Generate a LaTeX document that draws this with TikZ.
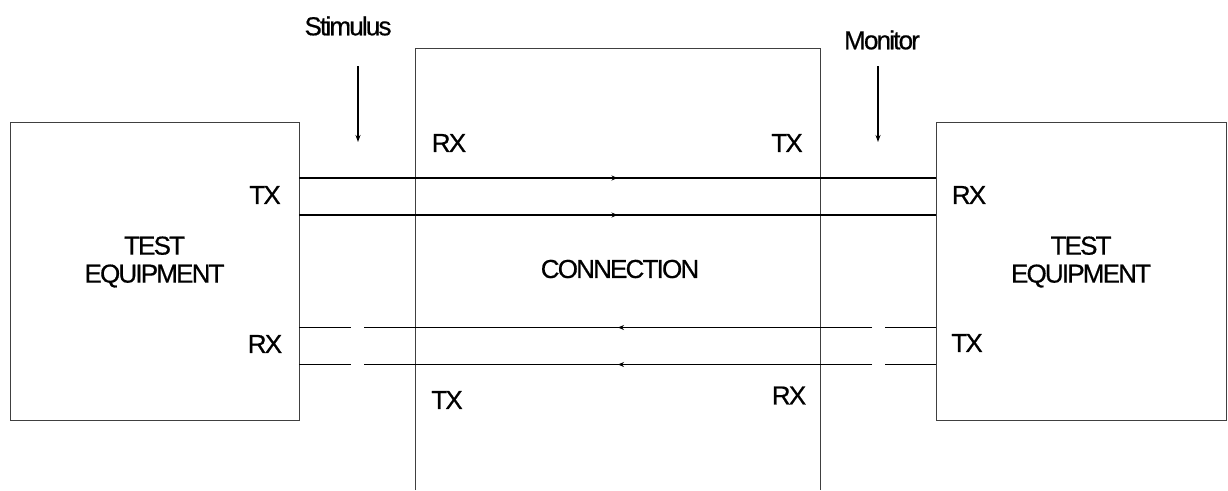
\documentclass[tikz,border=0pt]{standalone}
\usepackage{fontspec}
\setmainfont{Liberation Sans}[LetterSpace=-7,FakeBold=0.6]
\usetikzlibrary{decorations.markings,arrows.meta}
\begin{document}
\begin{tikzpicture}[x=1pt,y=-1pt,
  box/.style={draw=black!75, line width=0.9pt, inner sep=0pt},
  wire/.style={line width=1.7pt},
  lbl/.style={font=\fontsize{26}{28}\selectfont, inner sep=0pt, align=center},
  midarrow/.style={postaction={decorate},decoration={markings,mark=at position 0.5 with {\arrow{Stealth[length=6pt,width=5pt]}}}},
  probe/.style={line width=1.2pt, -{Stealth[length=7pt,width=5pt]}}
 ]
\path[use as bounding box] (0,0) rectangle (1228,490);
% boxes
\node[box, minimum width=289pt, minimum height=298pt] (lte) at (154.5,271) {};
\node[box, minimum width=290pt, minimum height=298pt] (rte) at (1081,271) {};
\draw[draw=black!75, line width=0.9pt] (415,490) coordinate (cbl) -- (415,48) coordinate (cbtl) -- (820,48) coordinate (cbtr) -- (820,490) coordinate (cbr);
% box texts
\node[lbl] (ltxt) at (154.5,262) {TEST\\EQUIPMENT};
\node[lbl] (rtxt) at (1081,262) {TEST\\EQUIPMENT};
\node[lbl] (ctxt) at (620,269) {CONNECTION};
% port labels
\node[lbl] (ltx) at (265,195) {TX};
\node[lbl] (lrx) at (265,344) {RX};
\node[lbl] (rrx) at (969,195) {RX};
\node[lbl] (rtx) at (967,343) {TX};
\node[lbl] (crx1) at (449,143) {RX};
\node[lbl] (ctx1) at (787,143) {TX};
\node[lbl] (ctx2) at (447,400) {TX};
\node[lbl] (crx2) at (789,395.5) {RX};
% wire end points
\coordinate (a1) at (lte.east |- 0,178);
\coordinate (b1) at (rte.west |- 0,178);
\coordinate (a2) at (lte.east |- 0,215);
\coordinate (b2) at (rte.west |- 0,215);
\coordinate (c1) at (lte.east |- 0,327.5);
\coordinate (c1g) at (351,327.5);
\coordinate (c1h) at (364,327.5);
\coordinate (c1i) at (872,327.5);
\coordinate (c1j) at (885,327.5);
\coordinate (d1) at (rte.west |- 0,327.5);
\coordinate (c2) at (lte.east |- 0,364.5);
\coordinate (c2g) at (351,364.5);
\coordinate (c2h) at (364,364.5);
\coordinate (c2i) at (872,364.5);
\coordinate (c2j) at (885,364.5);
\coordinate (d2) at (rte.west |- 0,364.5);
% wires
\draw[wire, midarrow] (a1) -- (b1);
\draw[wire, midarrow] (a2) -- (b2);
\draw[wire] (c1) -- (c1g);
\draw[wire, midarrow] (c1i) -- (c1h);
\draw[wire] (c1j) -- (d1);
\draw[wire] (c2) -- (c2g);
\draw[wire, midarrow] (c2i) -- (c2h);
\draw[wire] (c2j) -- (d2);
% probes
\node[lbl] (stim) at (348,26) {Stimulus};
\node[lbl] (mon) at (882,40) {Monitor};
\coordinate (s0) at (358,66);
\coordinate (s1) at (358,142);
\coordinate (m0) at (878,66);
\coordinate (m1) at (878,142);
\draw[probe] (s0) -- (s1);
\draw[probe] (m0) -- (m1);
\end{tikzpicture}
\end{document}
